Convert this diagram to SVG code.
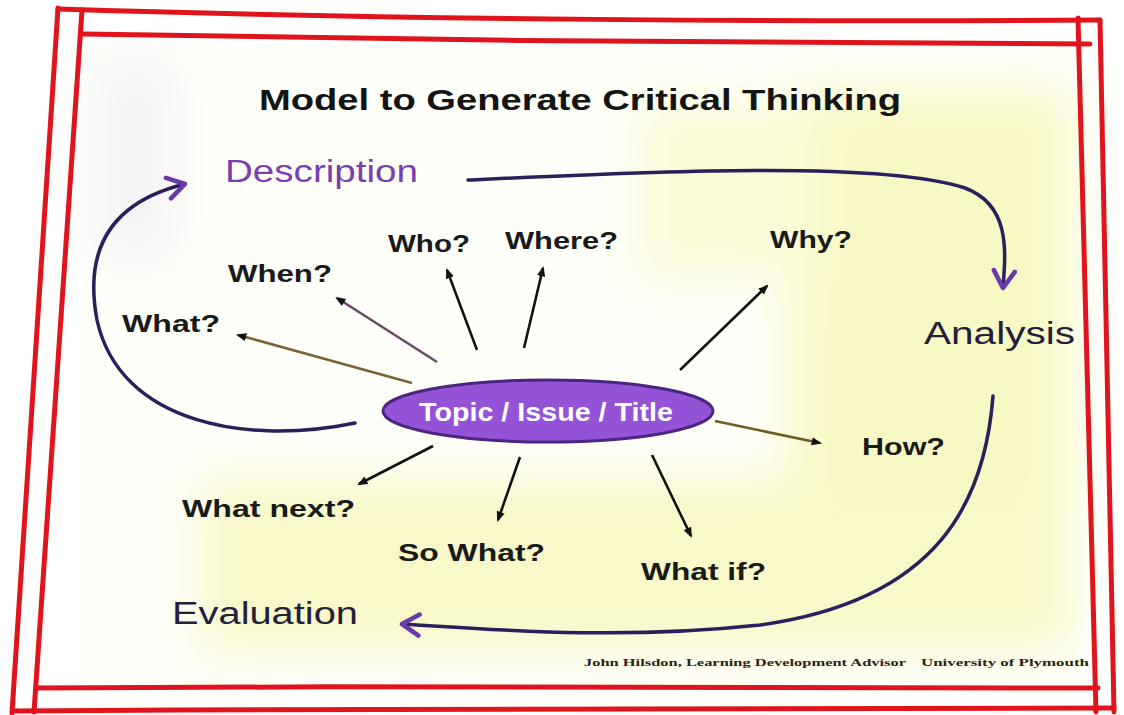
<svg xmlns="http://www.w3.org/2000/svg" width="1124" height="715" viewBox="0 0 1124 715">
<defs>
<style>
.q{font-family:"Liberation Sans",Arial,sans-serif;font-weight:bold;font-size:24px;fill:#1a1a1a}
.big{font-family:"Liberation Sans",Arial,sans-serif;font-size:31px}
.foot{font-family:"Liberation Serif","Times New Roman",serif;font-weight:bold;font-size:11px;fill:#2a2410}
.spoke{stroke:#111;stroke-width:2.6;fill:none;marker-end:url(#dot)}
.curve{stroke:#2b1f5c;stroke-width:3.5;fill:none;stroke-linecap:round}
.frame{stroke:#e0141c;stroke-width:5;fill:none;stroke-linecap:round}
</style>
<marker id="dot" viewBox="0 0 10 10" refX="8" refY="5" markerWidth="4" markerHeight="4" orient="auto" markerUnits="strokeWidth">
<path d="M0,1 L10,5 L0,9 Z" fill="#111"/>
</marker>
<marker id="chev" viewBox="0 0 20 20" refX="16" refY="10" markerWidth="7.5" markerHeight="7.5" orient="auto" markerUnits="strokeWidth">
<path d="M3,2 L16,10 L3,18" fill="none" stroke="#6a3aa8" stroke-width="3.5" stroke-linejoin="round" stroke-linecap="round"/>
</marker>
<filter id="blur" x="-20%" y="-20%" width="140%" height="140%"><feGaussianBlur stdDeviation="25"/></filter>
</defs>
<rect width="1124" height="715" fill="#ffffff"/>
<g id="background">
<rect x="85" y="45" width="995" height="640" fill="#fffffa"/>
<g filter="url(#blur)">
<rect x="790" y="90" width="280" height="560" fill="#f8f8c4"/>
<rect x="200" y="480" width="850" height="170" fill="#f8f8c8"/>
<rect x="640" y="100" width="180" height="180" fill="#fbfbd8"/>
<rect x="95" y="60" width="80" height="200" fill="#f5f3f5"/>
</g>
</g>
<g id="frame">
<path class="frame" d="M58,8 L12,713"/>
<path class="frame" d="M82,10 L34,712"/>
<path class="frame" d="M58,9 C400,20 800,22 1100,20"/>
<path class="frame" d="M82,34 C400,40 800,44 1090,44"/>
<path class="frame" d="M1078,18 L1096,712"/>
<path class="frame" d="M1100,20 L1114,712"/>
<path class="frame" d="M36,688 C400,686 800,686 1098,688"/>
<path class="frame" d="M14,711 C400,708 800,708 1114,708"/>
</g>
<text x="580" y="110" text-anchor="middle" textLength="642" lengthAdjust="spacingAndGlyphs" style="font-family:'Liberation Sans',Arial,sans-serif;font-weight:bold;font-size:30px;fill:#141414">Model to Generate Critical Thinking</text>
<g id="connectors">
<path class="curve" d="M468,180 C640,172 880,160 965,188 C1010,205 1006,250 1003,288" marker-end="url(#chev)"/>
<path class="curve" d="M993,396 C985,500 940,600 760,625 C620,640 500,630 402,624" marker-end="url(#chev)"/>
<path class="curve" d="M355,423 C250,445 120,425 97,320 C82,240 120,200 185,184" marker-end="url(#chev)"/>
<line class="spoke" x1="412" y1="383" x2="238" y2="335" style="stroke:#7a6434"/>
<line class="spoke" x1="437" y1="362" x2="337" y2="298" style="stroke:#6b4a66"/>
<line class="spoke" x1="477" y1="350" x2="447" y2="270"/>
<line class="spoke" x1="524" y1="348" x2="543" y2="268"/>
<line class="spoke" x1="680" y1="370" x2="767" y2="286"/>
<line class="spoke" x1="715" y1="421" x2="820" y2="443" style="stroke:#6e5a22"/>
<line class="spoke" x1="433" y1="446" x2="359" y2="484"/>
<line class="spoke" x1="520" y1="457" x2="498" y2="520"/>
<line class="spoke" x1="652" y1="455" x2="691" y2="536"/>
</g>
<g id="topic">
<ellipse cx="548" cy="411" rx="165" ry="31" fill="#9453d6" stroke="#4b2580" stroke-width="3"/>
<text x="546" y="421" text-anchor="middle" textLength="254" lengthAdjust="spacingAndGlyphs" style="font-family:'Liberation Sans',Arial,sans-serif;font-weight:bold;font-size:26px;fill:#ffffff">Topic / Issue / Title</text>
</g>
<g id="description"><text class="big" x="225" y="182" textLength="193" lengthAdjust="spacingAndGlyphs" fill="#7a3eb0">Description</text></g>
<g id="analysis"><text class="big" x="924" y="344" textLength="151" lengthAdjust="spacingAndGlyphs" fill="#24203a">Analysis</text></g>
<g id="evaluation"><text class="big" x="172" y="624" textLength="186" lengthAdjust="spacingAndGlyphs" fill="#24203a">Evaluation</text></g>
<g id="what"><text class="q" x="122" y="332" textLength="98" lengthAdjust="spacingAndGlyphs">What?</text></g>
<g id="when"><text class="q" x="228" y="282" textLength="104" lengthAdjust="spacingAndGlyphs">When?</text></g>
<g id="who"><text class="q" x="388" y="252" textLength="82" lengthAdjust="spacingAndGlyphs">Who?</text></g>
<g id="where"><text class="q" x="505" y="249" textLength="113" lengthAdjust="spacingAndGlyphs">Where?</text></g>
<g id="why"><text class="q" x="770" y="248" textLength="82" lengthAdjust="spacingAndGlyphs">Why?</text></g>
<g id="how"><text class="q" x="862" y="455" textLength="83" lengthAdjust="spacingAndGlyphs">How?</text></g>
<g id="whatnext"><text class="q" x="182" y="517" textLength="173" lengthAdjust="spacingAndGlyphs">What next?</text></g>
<g id="sowhat"><text class="q" x="398" y="561" textLength="147" lengthAdjust="spacingAndGlyphs">So What?</text></g>
<g id="whatif"><text class="q" x="641" y="580" textLength="125" lengthAdjust="spacingAndGlyphs">What if?</text></g>
<g id="footer">
<text class="foot" x="584" y="666" textLength="322" lengthAdjust="spacingAndGlyphs">John Hilsdon, Learning Development Advisor</text>
<text class="foot" x="921" y="666" textLength="168" lengthAdjust="spacingAndGlyphs">University of Plymouth</text>
</g>
</svg>
